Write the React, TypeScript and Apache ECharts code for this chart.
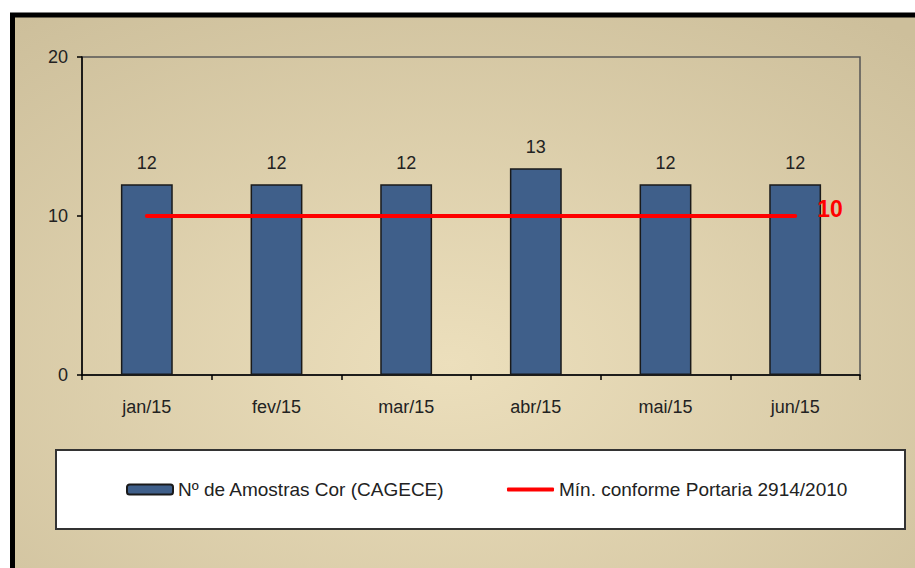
import React, { useEffect, useRef } from "react";
import * as echarts from "echarts";

const categories = ["jan/15", "fev/15", "mar/15", "abr/15", "mai/15", "jun/15"];
const amostras = [12, 12, 12, 13, 12, 12];
const minimo = [10, 10, 10, 10, 10, 10];
const yTicks = [0, 10, 20];
const seriesNames = ["Nº de Amostras Cor (CAGECE)", "Mín. conforme Portaria 2914/2010"];

const FONT = "'Liberation Sans', Arial, sans-serif";

export default function App() {
  const ref = useRef<HTMLDivElement>(null);
  useEffect(() => {
    if (!ref.current) return;
    const chart = echarts.init(ref.current, null, { renderer: "svg" });
    chart.setOption({
      animation: false,
      textStyle: { fontFamily: FONT },
      graphic: [
        {
          type: "rect",
          z: -10,
          silent: true,
          shape: { x: 12.5, y: 15, width: 930, height: 580 },
          style: {
            fill: new echarts.graphic.RadialGradient(0.47, 0.6, 0.75, [
              { offset: 0, color: "#ecdfbc" },
              { offset: 1, color: "#cdbf9b" },
            ]),
            stroke: "#000",
            lineWidth: 5,
          },
        },
        {
          type: "rect",
          z: -5,
          silent: true,
          shape: { x: 56, y: 450, width: 849, height: 79 },
          style: { fill: "#ffffff", stroke: "#333333", lineWidth: 2 },
        },
      ],
      grid: {
        left: 82,
        top: 57,
        right: 55,
        bottom: 193,
        show: true,
        borderColor: "#555555",
        borderWidth: 1.5,
        backgroundColor: "transparent",
      },
      legend: [
        {
          data: [seriesNames[0]],
          left: 126,
          top: 480,
          padding: 0,
          itemWidth: 46,
          itemHeight: 10,
          textStyle: { fontSize: 19, color: "#222", fontFamily: FONT },
        },
        {
          data: [seriesNames[1]],
          left: 507,
          top: 480,
          padding: 0,
          icon: "roundRect",
          itemWidth: 47,
          itemHeight: 4,
          itemStyle: { color: "#ff0000" },
          textStyle: { fontSize: 19, color: "#222", fontFamily: FONT },
        },
      ],
      xAxis: {
        type: "category",
        data: categories,
        boundaryGap: true,
        axisLine: { lineStyle: { color: "#000", width: 1.5 } },
        axisTick: { show: true, length: 5, lineStyle: { color: "#000", width: 1.5 } },
        axisLabel: { margin: 23, fontSize: 18, color: "#222", fontFamily: FONT },
        splitLine: { show: false },
      },
      yAxis: {
        type: "value",
        min: yTicks[0],
        max: yTicks[yTicks.length - 1],
        interval: yTicks[1] - yTicks[0],
        axisLine: { show: true, lineStyle: { color: "#000", width: 1.5 } },
        axisTick: { show: true, length: 5, lineStyle: { color: "#000", width: 1.5 } },
        axisLabel: { margin: 14, fontSize: 18, color: "#222", fontFamily: FONT },
        splitLine: { show: false },
      },
      series: [
        {
          name: seriesNames[0],
          type: "bar",
          data: amostras,
          barWidth: "40%",
          itemStyle: { color: "#3f5f8a", borderColor: "#1a1a1a", borderWidth: 1.5 },
          label: {
            show: true,
            position: "top",
            distance: 12,
            fontSize: 18,
            color: "#222",
            fontFamily: FONT,
          },
        },
        {
          name: seriesNames[1],
          type: "line",
          data: minimo,
          symbol: "none",
          lineStyle: { color: "#ff0000", width: 4, cap: "round" },
          itemStyle: { color: "#ff0000" },
          endLabel: {
            show: true,
            distance: 22,
            formatter: (p: any) => String(p.value),
            color: "#ff0000",
            fontWeight: "bold",
            fontSize: 23,
            fontFamily: FONT,
            offset: [0, -7],
          },
          z: 5,
        },
      ],
    });
    return () => chart.dispose();
  }, []);
  return (
    <div
      ref={ref}
      style={{ position: "fixed", left: 0, top: 0, width: 915, height: 568, background: "#fff" }}
    />
  );
}
